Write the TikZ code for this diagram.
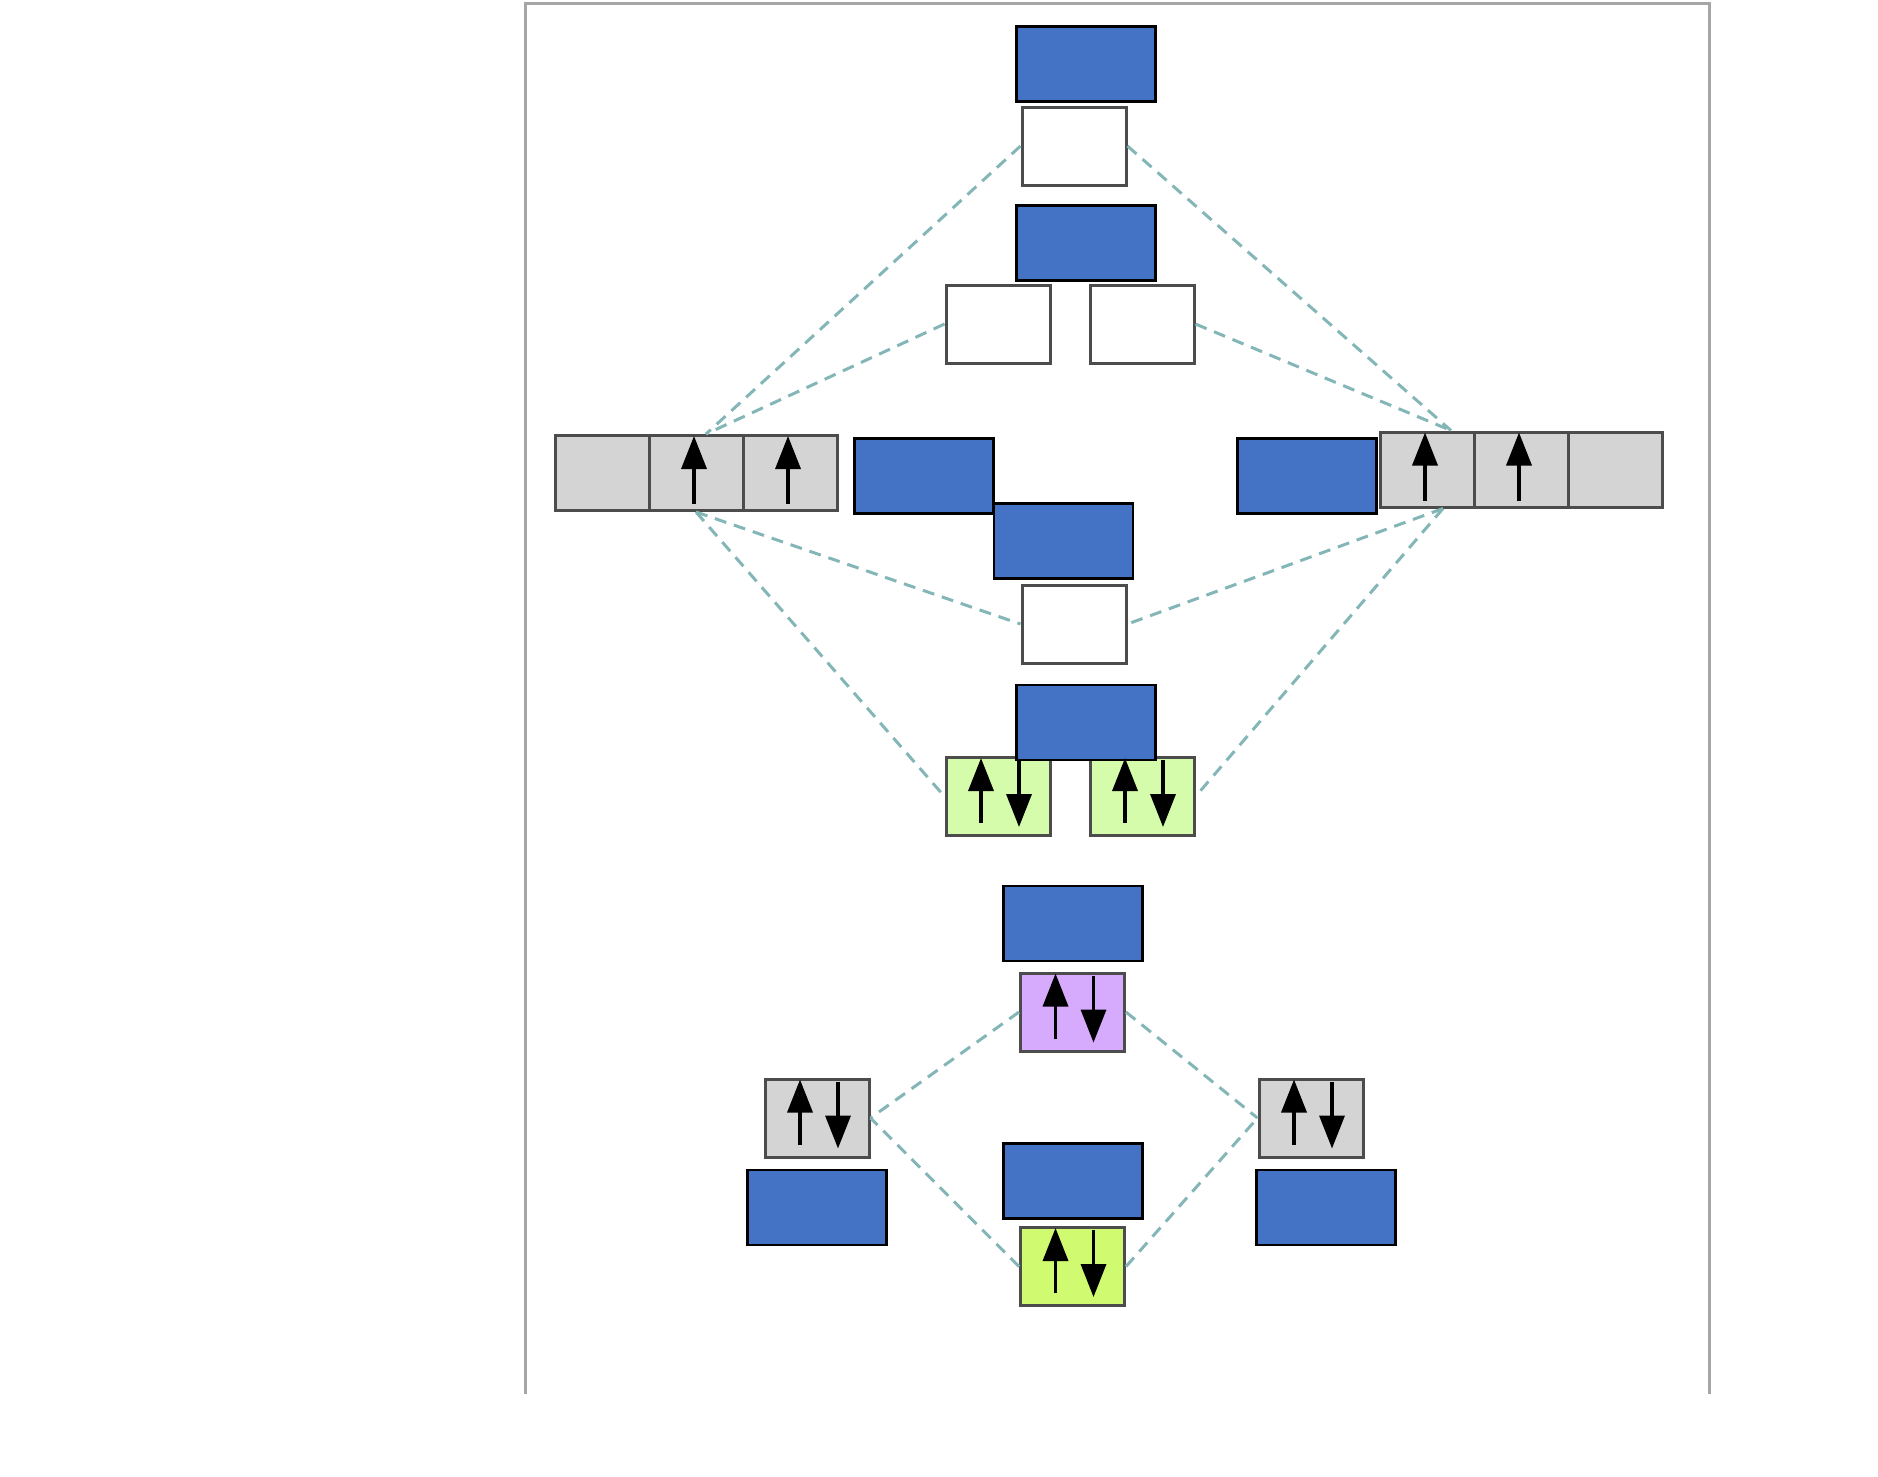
\documentclass[tikz,border=0pt]{standalone}
\usetikzlibrary{arrows.meta,calc}
\definecolor{lblblue}{HTML}{4472C4}
\definecolor{cellgray}{HTML}{D4D4D4}
\definecolor{bondgreen}{HTML}{D4FCAA}
\definecolor{lonepurple}{HTML}{D6AAFC}
\definecolor{limegreen}{HTML}{D0FA70}
\definecolor{linkteal}{HTML}{84B6B7}
\begin{document}
\begin{tikzpicture}[x=0.1mm, y=-0.1mm,
  lbl/.style={draw=black, line width=0.28mm, fill=lblblue, minimum width=13.9mm, minimum height=7.5mm, inner sep=0pt},
  orb/.style={draw=black!70, line width=0.3mm, fill=white, minimum width=10.4mm, minimum height=7.8mm, inner sep=0pt},
  cell/.style={draw=black!70, line width=0.3mm, fill=cellgray, minimum width=9.4mm, minimum height=7.5mm, inner sep=0pt},
  link/.style={draw=linkteal, line width=0.3mm, dash pattern=on 1.2mm off 0.8mm},
  spin/.style={line width=0.35mm, -{Triangle[length=3.3mm,width=2.5mm]}},
  frame/.style={draw=black!35, line width=0.3mm}
]
\useasboundingbox (0,0) rectangle (1878,1476);
\draw[frame] (525,1394) -- (525,3) -- (1709,3) -- (1709,1394);

% upper part
\node[lbl] (b1) at (1086,64) {};
\node[orb] (w1) at (1074,146) {};
\node[lbl] (b2) at (1086,243) {};
\node[orb] (w2L) at (998,324) {};
\node[orb] (w2R) at (1142,324) {};

\node[cell] (gL1) at (602,473) {};
\node[cell] (gL2) at (696,473) {};
\node[cell] (gL3) at (790,473) {};
\node[lbl] (bL) at (924,476) {};
\node[lbl] (bR) at (1307,476) {};
\node[cell] (gR1) at (1427,469.5) {};
\node[cell] (gR2) at (1521,469.5) {};
\node[cell] (gR3) at (1615,469.5) {};

\node[lbl] (b3) at (1063.5,541) {};
\node[orb] (w3) at (1074,624) {};
\node[orb, fill=bondgreen] (gnL) at (998,796.5) {};
\node[orb, fill=bondgreen] (gnR) at (1142,796.5) {};
\node[lbl] (b4) at (1086,722.5) {};

% lower part
\node[lbl] (b5) at (1073,923.5) {};
\node[orb, fill=lonepurple] (pu) at (1072.5,1012) {};
\node[orb, fill=cellgray] (smL) at (817,1118) {};
\node[orb, fill=cellgray] (smR) at (1311,1118) {};
\node[lbl] (b6L) at (817,1207.5) {};
\node[lbl] (b6C) at (1073,1181) {};
\node[lbl] (b6R) at (1326,1207.5) {};
\node[orb, fill=limegreen] (yg) at (1072.5,1266.5) {};

\coordinate (gLtop) at ($(gL2.north)+(10,0)$);
\coordinate (gLbot) at (gL2.south);
\coordinate (gRtop) at ($(gR1.north)+(24,0)$);
\coordinate (gRbot) at ($(gR1.south)+(16,0)$);

\draw[link] (w1.west) -- (gLtop);
\draw[link] (w2L.west) -- (gLtop);
\draw[link] (w1.east) -- (gRtop);
\draw[link] (w2R.east) -- (gRtop);
\draw[link] (gLbot) -- (w3.west);
\draw[link] (gLbot) -- (gnL.west);
\draw[link] (gRbot) -- (w3.east);
\draw[link] (gRbot) -- (gnR.east);
\draw[link] (pu.west) -- (smL.east);
\draw[link] (pu.east) -- (smR.west);
\draw[link] (yg.west) -- (smL.east);
\draw[link] (yg.east) -- (smR.west);

% electrons
\foreach \c in {gL2,gL3,gR1,gR2}
  \draw[spin] ($(\c.south)+(-2,-8)$) -- ($(\c.north)+(-2,2)$);
\foreach \b in {gnL,gnR,pu,smL,smR,yg} {
  \draw[spin] ($(\b.south)+(-17,-14)$) -- ($(\b.north)+(-17,2)$);
  \draw[spin] ($(\b.north)+(21,4)$) -- ($(\b.south)+(21,-10)$);
}
\end{tikzpicture}
\end{document}
